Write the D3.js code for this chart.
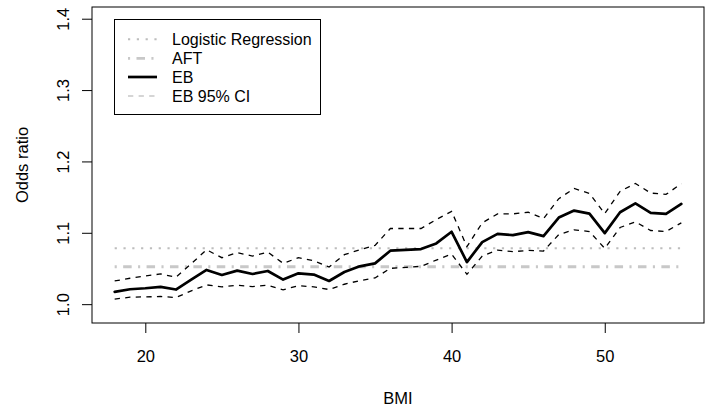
<!DOCTYPE html>
<html>
<head>
<meta charset="utf-8">
<script src="https://cdn.jsdelivr.net/npm/d3@7"></script>
<style>
  body { margin: 0; background: #fff; }
  svg { display: block; font-family: "Liberation Sans", Arial, sans-serif; }
</style>
</head>
<body>
<svg id="chart" width="707" height="411"></svg>
<script>
// BMI grid
const bmi = d3.range(18, 56);

// Empirical Bayes odds ratio estimate by BMI
const ebEstimate = [
  1.0172, 1.0209, 1.0223, 1.0242, 1.0205, 1.0344, 1.0479, 1.0409, 1.0470, 1.0423,
  1.0465, 1.0344, 1.0432, 1.0414, 1.0325, 1.0451, 1.0530, 1.0572, 1.0749, 1.0762,
  1.0772, 1.0851, 1.1014, 1.0590, 1.0869, 1.0985, 1.0967, 1.1009, 1.0953, 1.1213,
  1.1311, 1.1269, 1.0995, 1.1288, 1.1413, 1.1279, 1.1265, 1.1404
];
// 95% interval bounds
const ebUpper = [
  1.0325, 1.0363, 1.0395, 1.0423, 1.0377, 1.0567, 1.0762, 1.0651, 1.0721, 1.0674,
  1.0729, 1.0572, 1.0651, 1.0609, 1.0521, 1.0693, 1.0762, 1.0823, 1.1060, 1.1060,
  1.1060, 1.1185, 1.1301, 1.0805, 1.1139, 1.1265, 1.1265, 1.1288, 1.1199, 1.1478,
  1.1622, 1.1552, 1.1269, 1.1580, 1.1692, 1.1557, 1.1538, 1.1688
];
const ebLower = [
  1.0070, 1.0098, 1.0102, 1.0107, 1.0093, 1.0186, 1.0270, 1.0242, 1.0265, 1.0247,
  1.0265, 1.0200, 1.0260, 1.0242, 1.0205, 1.0279, 1.0330, 1.0367, 1.0502, 1.0515,
  1.0530, 1.0618, 1.0702, 1.0418, 1.0674, 1.0758, 1.0735, 1.0753, 1.0744, 1.0976,
  1.1042, 1.1018, 1.0781, 1.1074, 1.1153, 1.1032, 1.1018, 1.1139
];
// Constant odds ratios from the comparison models
const logisticOR = 1.0783;
const aftOR = 1.0524;

const xTicks = [20, 30, 40, 50];
const yTicks = [1.0, 1.1, 1.2, 1.3, 1.4];
const legendLabels = ["Logistic Regression", "AFT", "EB", "EB 95% CI"];

const svg = d3.select("#chart");
const box = { left: 92, right: 704, top: 7, bottom: 323 };

const x = d3.scaleLinear().domain([16.52, 56.48]).range([box.left, box.right]);
const y = d3.scaleLinear().domain([0.9736, 1.4164]).range([box.bottom, box.top]);

const fontSize = 16.5;

// x axis
const gx = svg.append("g")
  .attr("transform", `translate(0,${box.bottom})`)
  .call(d3.axisBottom(x).tickValues(xTicks).tickSize(10).tickSizeOuter(0).tickPadding(0));
gx.select(".domain").remove();
gx.selectAll(".tick line").attr("stroke", "#000");
gx.selectAll(".tick text")
  .attr("y", 39).attr("dy", 0)
  .attr("font-size", fontSize).attr("font-family", "Liberation Sans, Arial, sans-serif")
  .attr("fill", "#000");

// y axis with rotated labels
const gy = svg.append("g")
  .attr("transform", `translate(${box.left},0)`)
  .call(d3.axisLeft(y).tickValues(yTicks).tickFormat(d3.format(".1f")).tickSize(10).tickSizeOuter(0));
gy.select(".domain").remove();
gy.selectAll(".tick line").attr("stroke", "#000");
gy.selectAll(".tick text")
  .attr("x", 0).attr("dy", "0.35em")
  .attr("transform", "translate(-29,0) rotate(-90)")
  .attr("text-anchor", "middle")
  .attr("font-size", fontSize).attr("font-family", "Liberation Sans, Arial, sans-serif")
  .attr("fill", "#000");

// axis titles
svg.append("text")
  .attr("x", (box.left + box.right) / 2).attr("y", 404)
  .attr("text-anchor", "middle").attr("font-size", fontSize)
  .text("BMI");
svg.append("text")
  .attr("transform", `translate(22,${(box.top + box.bottom) / 2}) rotate(-90)`)
  .attr("dy", "0.35em")
  .attr("text-anchor", "middle").attr("font-size", fontSize)
  .text("Odds ratio");

// reference lines
const xMin = d3.min(bmi), xMax = d3.max(bmi);
svg.append("line")
  .attr("x1", x(xMin)).attr("x2", x(xMax))
  .attr("y1", y(logisticOR)).attr("y2", y(logisticOR))
  .attr("stroke", "#bdbdbd").attr("stroke-width", 2)
  .attr("stroke-dasharray", "2.2,6.6");
svg.append("line")
  .attr("x1", x(xMin)).attr("x2", x(xMax))
  .attr("y1", y(aftOR)).attr("y2", y(aftOR))
  .attr("stroke", "#c8c8c8").attr("stroke-width", 2.8)
  .attr("stroke-dasharray", "2.1,6.4,8.5,6.4");

// EB curve and interval
const line = d3.line().x((d, i) => x(bmi[i])).y(d => y(d));
[ebUpper, ebLower].forEach(s => {
  svg.append("path").datum(s)
    .attr("d", line).attr("fill", "none")
    .attr("stroke", "#000").attr("stroke-width", 1.3)
    .attr("stroke-dasharray", "5.3,5.3");
});
svg.append("path").datum(ebEstimate)
  .attr("d", line).attr("fill", "none")
  .attr("stroke", "#000").attr("stroke-width", 2.7)
  .attr("stroke-linejoin", "round").attr("stroke-linecap", "round");

// plot frame
svg.append("rect")
  .attr("x", box.left).attr("y", box.top)
  .attr("width", box.right - box.left).attr("height", box.bottom - box.top)
  .attr("fill", "none").attr("stroke", "#000").attr("stroke-width", 1);

// legend
const legendStyles = [
  { stroke: "#bdbdbd", width: 2, dash: "2.2,6.6" },
  { stroke: "#c8c8c8", width: 2.8, dash: "2.1,6.4,8.5,6.4" },
  { stroke: "#000", width: 2.7, dash: null },
  { stroke: "#c8c8c8", width: 1.3, dash: "5.3,5.3" }
];
const lg = svg.append("g");
lg.append("rect")
  .attr("x", 114.5).attr("y", 19.5).attr("width", 206).attr("height", 95)
  .attr("fill", "#fff").attr("stroke", "#000").attr("stroke-width", 1);
const rowY = [39.3, 58.3, 77, 96];
legendLabels.forEach((lab, i) => {
  const st = legendStyles[i];
  lg.append("line")
    .attr("x1", 128).attr("x2", 157)
    .attr("y1", rowY[i]).attr("y2", rowY[i])
    .attr("stroke", st.stroke).attr("stroke-width", st.width)
    .attr("stroke-dasharray", st.dash);
  lg.append("text")
    .attr("x", 172).attr("y", rowY[i]).attr("dy", "0.35em")
    .attr("font-size", 16).text(lab);
});
</script>
</body>
</html>
